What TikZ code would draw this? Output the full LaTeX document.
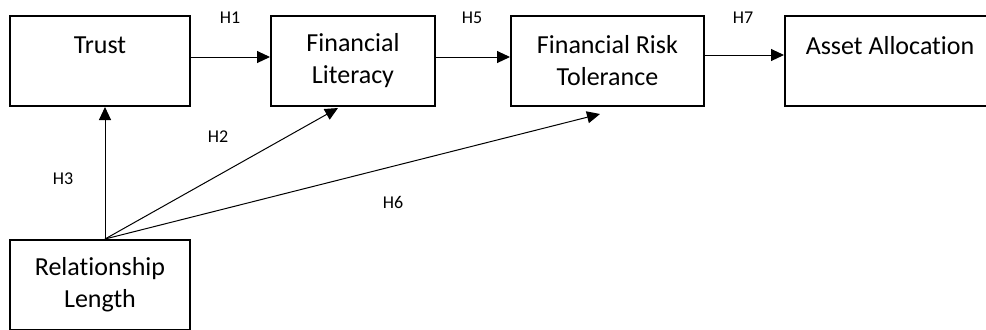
\documentclass[tikz,border=0pt]{standalone}
\usepackage{fontspec}
\setmainfont{Carlito}[Ligatures=CommonOff]
\usetikzlibrary{arrows.meta}
\begin{document}
\begin{tikzpicture}[x=0.5pt,y=-0.5pt,
  box/.style={draw=black,line width=1pt,rectangle,align=center,inner sep=0pt,
    minimum height=45pt,font=\fontsize{13}{16}\selectfont},
  hlab/.style={font=\fontsize{9}{11}\selectfont,inner sep=0pt},
  arr/.style={line width=0.5pt,-{Triangle[length=6.5pt,width=6pt]}}]
\useasboundingbox (0,0) rectangle (986,329);
\node[box,minimum width=90pt] (trust) at (100,61) {Trust\\\mbox{}};
\node[box,minimum width=82pt] (fl) at (353,61) {Financial\\Literacy};
\node[box,minimum width=96.5pt] (frt) at (607.5,61) {Financial Risk\\Tolerance};
\node[box,minimum width=105pt] (aa) at (890,61) {Asset Allocation\\\mbox{}};
\node[box,minimum width=90pt] (rl) at (100,285) {Relationship\\Length};
\coordinate (o) at ([xshift=2.5pt]rl.north);
\draw[arr] ([yshift=2pt]trust.east) -- ([yshift=2pt]fl.west);
\draw[arr] ([yshift=2pt]fl.east) -- ([yshift=2pt]frt.west);
\draw[arr] ([yshift=3pt]frt.east) -- ([yshift=3pt]aa.west);
\draw[arr] (o) -- (o |- trust.south);
\draw[arr] (o) -- ([xshift=-7.5pt,yshift=-0.5pt]fl.south);
\draw[arr] (o) -- ([xshift=-3.75pt,yshift=-3.5pt]frt.south);
\node[hlab] (h1) at (230,18) {H1};
\node[hlab] (h5) at (472,18) {H5};
\node[hlab] (h7) at (743,18) {H7};
\node[hlab] (h2) at (218,137) {H2};
\node[hlab] (h3) at (63,179) {H3};
\node[hlab] (h6) at (393,202) {H6};
\end{tikzpicture}
\end{document}
